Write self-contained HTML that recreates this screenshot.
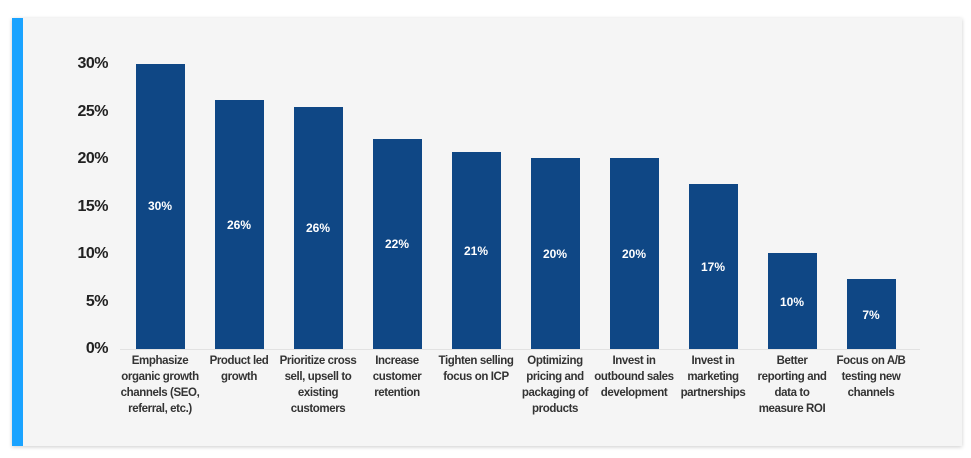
<!DOCTYPE html>
<html><head><style>
body{margin:0;width:971px;height:458px;background:#fff;overflow:hidden;font-family:"Liberation Sans",sans-serif}
.card{position:absolute;left:12px;top:18px;width:950px;height:428px;background:#f5f5f5;box-shadow:0 1px 4px rgba(0,0,0,.2)}
.lb{position:absolute;left:12px;top:18px;width:11px;height:428px;background:#1aa3ff}
.yl{position:absolute;width:60px;left:48px;text-align:right;font-weight:bold;font-size:16px;color:#222;letter-spacing:-0.5px}
.bar{position:absolute;width:49px;background:#0f4785;bottom:109px}
.v{position:absolute;width:60px;text-align:center;color:#fff;font-weight:bold;font-size:12px}
.xl{position:absolute;top:353px;width:90px;text-align:center;font-weight:bold;font-size:11.5px;line-height:16px;color:#333;letter-spacing:-0.4px}
.base{position:absolute;left:120px;top:349px;width:800px;height:1px;background:#e2e2e2}
</style></head><body>
<div class="card"></div><div class="lb"></div>
<div class="base"></div>
<div class="yl" style="top:55px">30%</div>
<div class="yl" style="top:103px">25%</div>
<div class="yl" style="top:150px">20%</div>
<div class="yl" style="top:198px">15%</div>
<div class="yl" style="top:245px">10%</div>
<div class="yl" style="top:293px">5%</div>
<div class="yl" style="top:340px">0%</div>

<div class="bar" style="left:136px;top:64px;height:285px"></div>
<div class="bar" style="left:215px;top:100px;height:249px"></div>
<div class="bar" style="left:294px;top:107px;height:242px"></div>
<div class="bar" style="left:373px;top:139px;height:210px"></div>
<div class="bar" style="left:452px;top:152px;height:197px"></div>
<div class="bar" style="left:531px;top:158px;height:191px"></div>
<div class="bar" style="left:610px;top:158px;height:191px"></div>
<div class="bar" style="left:689px;top:184px;height:165px"></div>
<div class="bar" style="left:768px;top:253px;height:96px"></div>
<div class="bar" style="left:847px;top:279px;height:70px"></div>

<div class="v" style="left:130px;top:199px">30%</div>
<div class="v" style="left:209px;top:218px">26%</div>
<div class="v" style="left:288px;top:221px">26%</div>
<div class="v" style="left:367px;top:237px">22%</div>
<div class="v" style="left:446px;top:244px">21%</div>
<div class="v" style="left:525px;top:247px">20%</div>
<div class="v" style="left:604px;top:247px">20%</div>
<div class="v" style="left:683px;top:260px">17%</div>
<div class="v" style="left:762px;top:295px">10%</div>
<div class="v" style="left:841px;top:308px">7%</div>

<div class="xl" style="left:115px">Emphasize organic growth channels (SEO, referral, etc.)</div>
<div class="xl" style="left:194px;width:90px">Product led growth</div>
<div class="xl" style="left:273px">Prioritize cross sell, upsell to existing customers</div>
<div class="xl" style="left:357px;width:80px">Increase customer retention</div>
<div class="xl" style="left:431px">Tighten selling focus on ICP</div>
<div class="xl" style="left:515px;width:80px">Optimizing pricing and packaging of products</div>
<div class="xl" style="left:589px">Invest in outbound sales development</div>
<div class="xl" style="left:673px;width:80px">Invest in marketing partnerships</div>
<div class="xl" style="left:752px;width:80px">Better reporting and data to measure ROI</div>
<div class="xl" style="left:831px;width:80px">Focus on A/B testing new channels</div>
</body></html>
